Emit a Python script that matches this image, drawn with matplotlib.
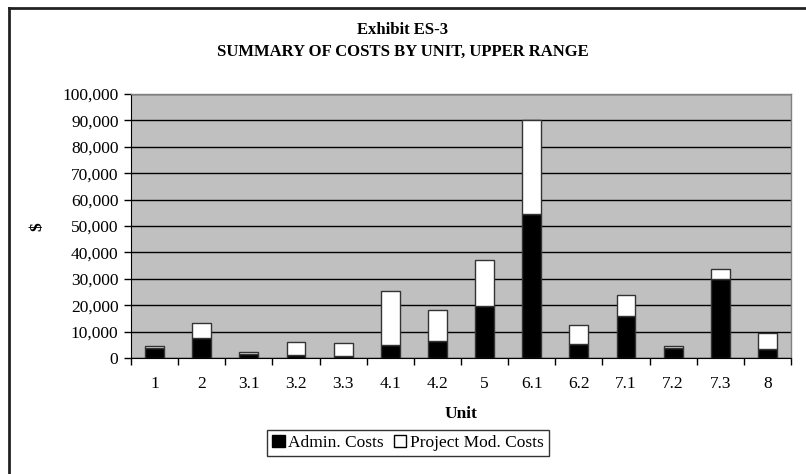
import matplotlib.pyplot as plt
import numpy as np
from matplotlib.lines import Line2D
from matplotlib.patches import Patch
from matplotlib.ticker import FuncFormatter

# Cost by unit, upper range ($)
units = ["1", "2", "3.1", "3.2", "3.3", "4.1", "4.2", "5", "6.1", "6.2",
         "7.1", "7.2", "7.3", "8"]
admin_costs = [3600, 7400, 1500, 1200, 750, 4800, 6400, 19700, 54600, 5200,
               15800, 3800, 30000, 3500]
project_mod_costs = [800, 5900, 600, 4700, 4750, 20600, 11900, 17500, 35500,
                     7300, 8100, 700, 3700, 6000]

plt.rcParams["font.family"] = ["Liberation Serif", "DejaVu Serif"]

fig = plt.figure(figsize=(8.06, 4.74), dpi=100)
ax = fig.add_axes([131 / 806, 1 - 358 / 474, 660 / 806, 264 / 474])

x = np.arange(len(units))
ax.set_facecolor("#C0C0C0")
ax.set_axisbelow(True)
ax.yaxis.grid(True, color="black", linewidth=1.0)

ax.bar(x, admin_costs, width=0.4, color="black", edgecolor="#333333",
       linewidth=1.0, zorder=3)
ax.bar(x, project_mod_costs, width=0.4, bottom=admin_costs, color="white",
       edgecolor="#333333", linewidth=1.0, zorder=3)

ax.set_xlim(-0.5, len(units) - 0.5)
ax.set_ylim(0, 100000)
ax.set_yticks(np.arange(0, 100001, 10000))
ax.yaxis.set_major_formatter(FuncFormatter(lambda v, p: f"{v:,.0f}"))

# category labels centred, tick marks between categories
ax.set_xticks(x)
ax.set_xticklabels(units)
ax.set_xticks(np.arange(-0.5, len(units), 1.0), minor=True)
ax.tick_params(axis="x", which="major", length=0, pad=13, labelsize=12.5)
ax.tick_params(axis="x", which="minor", length=5, width=1, color="black",
               direction="out")
ax.tick_params(axis="y", length=5, width=1, direction="out", labelsize=12.5,
               pad=4)

for side in ("top", "right"):
    ax.spines[side].set_color("#808080")
    ax.spines[side].set_linewidth(1.0)
ax.spines["left"].set_color("black")
ax.spines["bottom"].set_color("black")

ax.set_xlabel("Unit", fontsize=12.5, fontweight="bold", labelpad=10)
fig.text(37 / 806, 1 - 227 / 474, "$", fontsize=12.5, fontweight="bold",
         rotation=90, ha="center", va="center")

fig.text(0.5, 1 - 30 / 474, "Exhibit ES-3", fontsize=12, fontweight="bold",
         ha="center", va="center")
fig.text(0.5, 1 - 52 / 474, "SUMMARY OF COSTS BY UNIT, UPPER RANGE",
         fontsize=12, fontweight="bold", ha="center", va="center")

handles = [Patch(facecolor="black", edgecolor="black"),
           Patch(facecolor="white", edgecolor="black")]
leg = fig.legend(handles, ["Admin. Costs", "Project Mod. Costs"], ncol=2,
                 loc="center", bbox_to_anchor=(408 / 806, 1 - 443 / 474),
                 fontsize=12.5, frameon=True, fancybox=False, handlelength=0.7,
                 handleheight=0.7, handletextpad=0.2, columnspacing=0.6,
                 borderpad=0.3)
leg.get_frame().set_edgecolor("black")
leg.get_frame().set_linewidth(1.0)

# outer chart border (left and top edges)
fig.add_artist(Line2D([9 / 806, 9 / 806], [0, 1 - 8 / 474], color="#222222",
                      linewidth=2, transform=fig.transFigure))
fig.add_artist(Line2D([9 / 806, 1], [1 - 8 / 474, 1 - 8 / 474],
                      color="#222222", linewidth=2, transform=fig.transFigure))

fig.savefig("out.png", dpi=100)
